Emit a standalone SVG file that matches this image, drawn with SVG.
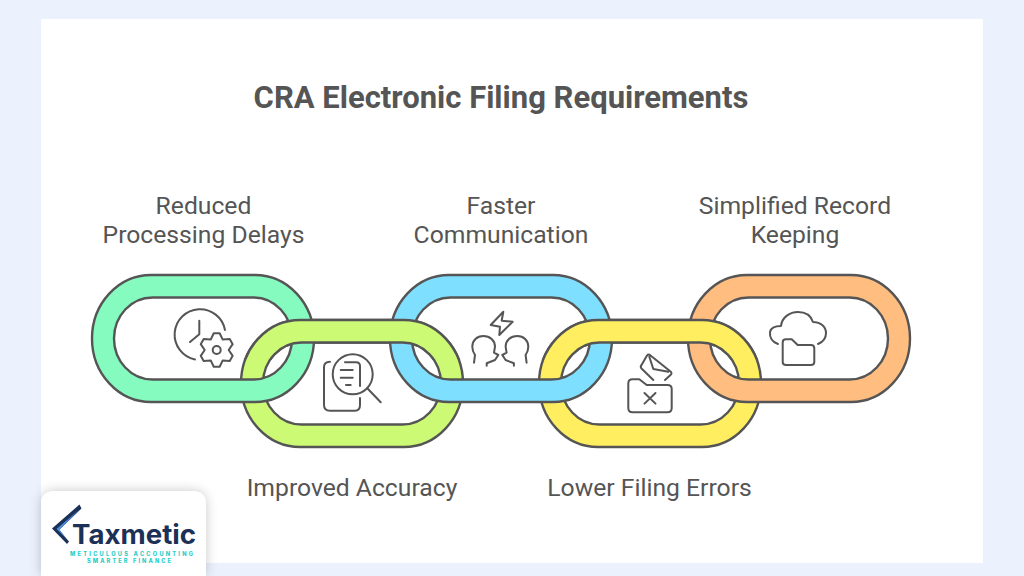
<svg xmlns="http://www.w3.org/2000/svg" width="1024" height="576" viewBox="0 0 1024 576">
<style>
.t{font-family:Roboto,"Liberation Sans",sans-serif;fill:#555;text-anchor:middle}
.title{font-size:31px;font-weight:700}
.lab{font-size:24.7px}
.ring{stroke:#555;stroke-width:2.4;fill-rule:evenodd}
.ic{fill:none;stroke:#555;stroke-width:2;stroke-linecap:round;stroke-linejoin:round}
.tag{font-family:Inter,"Liberation Sans",sans-serif;font-weight:800;font-size:5.6px;fill:#1fd0c8}
</style>
<defs>
<path id="pill" d="M59,0H163A59,63.5 0 0 1 163,127H59A59,63.5 0 0 1 59,0ZM60.5,22.5H161.5A38.5,41 0 0 1 161.5,104.5H60.5A38.5,41 0 0 1 60.5,22.5Z"/>
<clipPath id="topCut"><rect x="0" y="0" width="1024" height="360"/></clipPath>
<filter id="sh" x="-20%" y="-30%" width="140%" height="160%"><feDropShadow dx="0" dy="0" stdDeviation="6" flood-color="#000" flood-opacity="0.22"/></filter>
</defs>
<rect width="1024" height="576" fill="#ebf2fe"/>
<rect x="41" y="19" width="942" height="544" fill="#fff"/>
<text class="t title" x="501" y="108">CRA Electronic Filing Requirements</text>

<g id="node-improved-accuracy">
<use href="#pill" class="ring" x="241" y="320" fill="#cdfa74"/>
<g class="ic">
<path d="M330,361.7Q324,362 324,367V405Q324,410.7 330,410.7H355Q360,410.7 360,405V398"/>
<circle cx="352.7" cy="374.3" r="20"/>
<path d="M367.3,388.3L380.7,402.3M345,362.3H356Q360,362.3 360,366V386M340.7,370H352.7M340.7,377.7H352.7M346,385H350.7"/>
</g>
<text class="t lab" x="352" y="496">Improved Accuracy</text>
</g>

<g id="node-lower-filing-errors">
<use href="#pill" class="ring" x="539" y="320" fill="#ffee5f"/>
<g class="ic">
<path d="M628.3,408V383.5Q628.3,379.3 632.5,379.3H639.3L646.7,385H667.5Q671.7,385 671.7,389V408Q671.7,412.3 667.5,412.3H632.5Q628.3,412.3 628.3,408Z"/>
<path d="M644.5,393L655.5,403.6M655.5,393L644.5,403.6"/>
<path d="M653.3,380L641.5,368.5Q640,366.7 641.5,365L647,355.5Q648.5,353.5 650.5,355.5L670.5,371.5Q672.5,373.3 670.5,375L665,380M649.3,356.7L653.3,369L668.3,371.7"/>
</g>
<text class="t lab" x="649.5" y="496">Lower Filing Errors</text>
</g>

<g id="node-reduced-processing-delays">
<use href="#pill" class="ring" x="92" y="275" fill="#86fbc0"/>
<g class="ic">
<path d="M225,330A25.4,25.4 0 1 0 195,359.5"/>
<path d="M199.3,320.7V334.3L190,342"/>
<path transform="translate(216.7 350)" d="M-2.95,-16.74L2.95,-16.74L6,-10.39L13.02,-10.92L15.97,-5.82L12,0L15.97,5.82L13.02,10.92L6,10.39L2.95,16.74L-2.95,16.74L-6,10.39L-13.02,10.92L-15.97,5.82L-12,0L-15.97,-5.82L-13.02,-10.92L-6,-10.39Z"/>
<circle cx="216.7" cy="350" r="4"/>
</g>
<text class="t lab" x="203.5" y="214">Reduced</text>
<text class="t lab" x="203.5" y="243">Processing Delays</text>
</g>

<g id="node-faster-communication">
<use href="#pill" class="ring" x="390" y="275" fill="#7fdfff"/>
<g class="ic">
<path d="M503.3,311.7L501.7,320.7L512.7,321.7L499.3,335L500,326.7L490.7,325Z"/>
<path d="M474,362.7L475,355C473,352 472.3,349.5 472.3,346.7C472.3,340.5 477,336 483.3,336C490,336 495,340.5 495,346.7L494,352.7L498.3,355L495,360L486.7,363.3V365.7"/>
<path d="M526.6,362.7L525.6,355C527.6,352 528.3,349.5 528.3,346.7C528.3,340.5 523.6,336 517.3,336C510.6,336 505.6,340.5 505.6,346.7L506.6,352.7L502.3,355L505.6,360L513.9,363.3V365.7"/>
</g>
<text class="t lab" x="501" y="214">Faster</text>
<text class="t lab" x="501" y="243">Communication</text>
</g>

<g id="node-simplified-record-keeping">
<use href="#pill" class="ring" x="688" y="275" fill="#ffbd80"/>
<g class="ic">
<path d="M778,344C772,342 769.5,337 770,332C771,327 775,326 781,326C782,317 790,312 798,312C806,312 811,316 813,322C821,322 826,327 826,333C826,339 823,342 818,344"/>
<path d="M782.7,362V342.5Q782.7,339.3 786,339.3H791.7L797.7,345H811Q814.3,345 814.3,348.3V362Q814.3,365 811,365H786Q782.7,365 782.7,362Z"/>
</g>
<text class="t lab" x="795" y="214">Simplified Record</text>
<text class="t lab" x="795" y="243">Keeping</text>
</g>

<g id="ring-overlaps" clip-path="url(#topCut)">
<use href="#pill" class="ring" x="241" y="320" fill="#cdfa74"/>
<use href="#pill" class="ring" x="539" y="320" fill="#ffee5f"/>
</g>

<g id="logo">
<path d="M41,576V505Q41,491 55,491H192Q206,491 206,505V576Z" fill="#fff" filter="url(#sh)"/>
<path d="M79.5,504.5L81.5,508.5L59,530L69,541.5L67,544L52,528.5Z" fill="#1b3157"/>
<path d="M79.5,509.5L59.5,529.5L66,538L56.5,529Z" fill="#4a8fe0"/>
<text x="72" y="543.5" font-family="Inter,'Liberation Sans',sans-serif" font-weight="700" font-size="27" fill="#1b3157" textLength="124" lengthAdjust="spacingAndGlyphs">Taxmetic</text>
<text class="tag" x="70" y="555.5" textLength="123" lengthAdjust="spacing">METICULOUS ACCOUNTING</text>
<text class="tag" x="87" y="563" textLength="84" lengthAdjust="spacing">SMARTER FINANCE</text>
</g>
</svg>
